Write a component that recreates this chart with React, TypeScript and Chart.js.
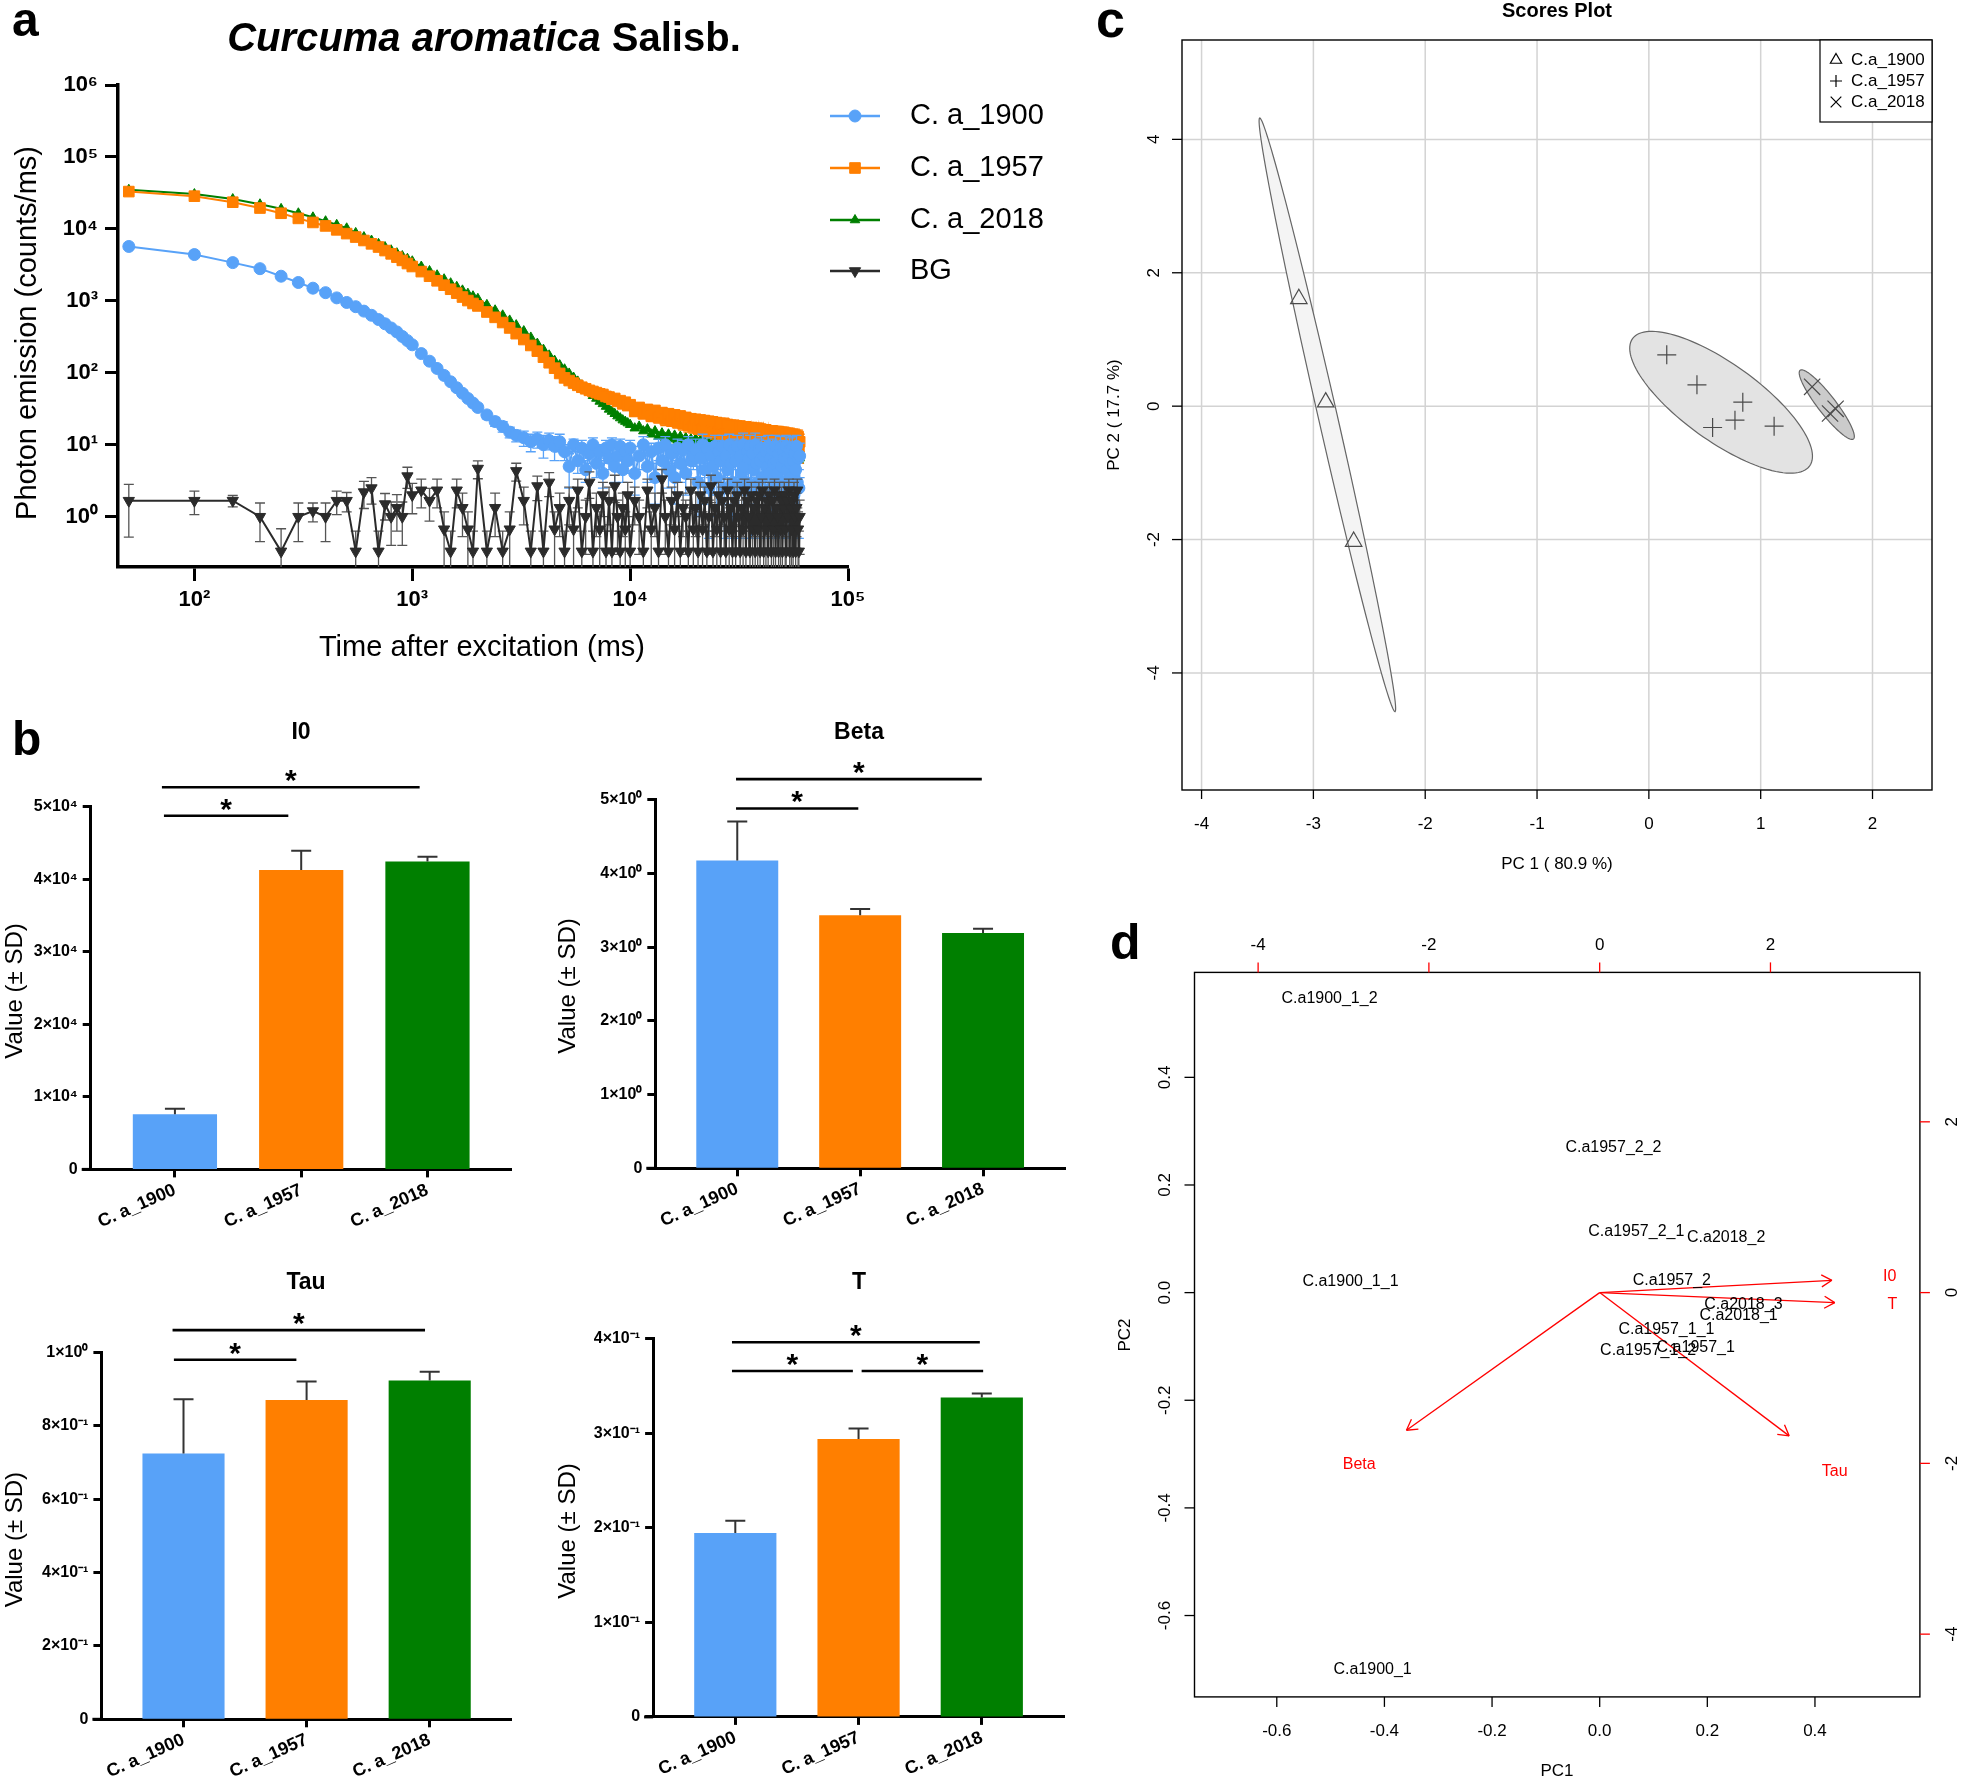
import React, { useEffect, useRef } from "react";
import { Chart, registerables } from "chart.js";

Chart.register(...registerables);

const SANS = '"Liberation Sans", Arial, Helvetica, sans-serif';
Chart.defaults.font.family = SANS;
Chart.defaults.color = "#000";

const BLUE = "#58a2f8";
const ORANGE = "#ff7f00";
const GREEN = "#007f00";
const DARK = "#2b2b2b";
const RED = "#ff0000";

/* ---------------- panel a data ---------------- */
const timeMs = [
  50, 100, 150, 200, 250, 300, 350, 400, 450, 500, 550, 600, 650, 700, 750, 800, 850, 900, 950, 1000,
  1100, 1200, 1300, 1400, 1500, 1600, 1700, 1800, 1900, 2000,
  2200, 2400, 2600, 2800, 3000,
  3250, 3500, 3750, 4000, 4250, 4500, 4750,
  5000, 5250, 5500, 5750, 6000, 6250, 6500, 6750, 7000, 7250, 7500, 7750, 8000, 8250, 8500, 8750, 9000, 9250, 9500, 9750,
  10000, 10500, 11000, 11500, 12000, 12500, 13000, 13500, 14000, 14500,
  15000, 15500, 16000, 16500, 17000, 17500, 18000, 18500, 19000, 19500,
  20000, 20500, 21000, 21500, 22000, 22500, 23000, 23500, 24000, 24500,
  25000, 25500, 26000, 26500, 27000, 27500, 28000, 28500, 29000, 29500,
  30000, 30500, 31000, 31500, 32000, 32500, 33000, 33500, 34000, 34500,
  35000, 35500, 36000, 36500, 37000, 37500, 38000, 38500, 39000, 39500,
  40000, 40500, 41000, 41500, 42000, 42500, 43000, 43500, 44000, 44500,
  45000, 45500, 46000, 46500, 47000, 47500, 48000, 48500, 49000, 49500,
  50000, 50500, 51000, 51500, 52000, 52500, 53000, 53500, 54000, 54500,
  55000, 55500, 56000, 56500, 57000, 57500, 58000, 58500, 59000, 59500,
  60000];
const ca1900 = [
  5700, 4400, 3400, 2800, 2200, 1800, 1500, 1300, 1100, 950, 830, 720, 630, 550, 480, 420, 370, 320, 280, 245,
  185, 145, 115, 92, 75, 62, 52, 44, 38, 33,
  26, 21, 18, 15, 13.5,
  12.5, 11, 12, 10, 11.5, 9.5, 11,
  8, 5, 10, 6, 9, 4.5, 7.5, 10, 5.5, 8, 4, 9, 6.5, 10, 5, 7, 9.5, 4.5, 8, 6,
  9, 4, 7, 10, 5, 8, 3.5, 9, 6, 10,
  4.5, 7.5, 3.5, 9, 5.5, 8.5, 4, 10, 6, 7,
  8.5, 3, 6.5, 10, 4.5, 9, 2.5, 7, 5, 9.5,
  3.5, 8, 6, 9.5, 2.5, 7, 4.5, 10, 5.5, 3,
  8.5, 6, 9.5, 2.5, 7, 4, 10, 5, 3, 8,
  6.5, 9.5, 2.5, 7.5, 4.5, 10, 5.5, 3, 8.5, 6,
  9, 3.5, 7, 2, 8, 5, 9.5, 4, 6.5, 2.5,
  8.5, 5.5, 3, 9.5, 6, 4, 7.5, 2, 9, 5,
  3, 8, 6.5, 2.5, 9.5, 4.5, 7, 2, 8.5, 5.5,
  3.5, 9, 6, 2, 7.5, 4.5, 9.5, 3, 6.5, 2.5,
  7];
const ca1900Err = [
  0, 0, 0, 0, 0, 0, 0, 0, 0, 0, 0, 0, 0, 0, 0, 0, 0, 0, 0, 0,
  0, 0, 0, 0, 0, 6, 5, 4, 4, 3.5,
  3, 3, 3, 2.5, 2.5,
  3, 3, 3, 3.5, 3, 3.5, 3,
  2, 2.5, 2, 2, 2.5, 1.5, 2, 2.5, 2, 2, 1.5, 2.5, 2, 2.5, 2, 2, 2.5, 1.5, 2, 2,
  2.5, 2, 2.5, 3, 2, 2.5, 2, 3, 2.5, 3,
  2, 2.5, 2, 3, 2.5, 3, 2, 3, 2.5, 2.5,
  3.5, 2, 3, 4, 3, 3.5, 2, 3.5, 3, 4,
  2.5, 3.5, 3, 4, 2, 3.5, 3, 4, 3, 2.5,
  3.5, 3, 4, 2, 3.5, 3, 4.5, 3, 2.5, 3.5,
  3, 4, 2, 3.5, 3, 4.5, 3, 2.5, 3.5, 3,
  4, 2.5, 3.5, 1.5, 3.5, 3, 4, 3, 3.5, 2,
  3.5, 3, 2.5, 4, 3.5, 3, 3.5, 1.5, 4, 3,
  2.5, 3.5, 3.5, 2, 4, 3, 3.5, 1.5, 4, 3,
  2.5, 4, 3.5, 1.5, 3.5, 3, 4, 2.5, 3.5, 2,
  3.5];
const ca1957 = [
  33000, 28500, 23500, 19500, 16500, 14000, 12300, 11000, 9700, 8600, 7700, 6900, 6200, 5600, 5000, 4500, 4050, 3650, 3300, 3000,
  2550, 2200, 1900, 1650, 1450, 1280, 1130, 1010, 920, 850,
  700, 590, 500, 420, 350,
  290, 240, 200, 165, 138, 116, 98,
  85, 78, 72, 67, 63, 60, 57, 55, 53, 51, 50, 47, 46, 43, 44, 40, 41, 37, 39, 35,
  36, 29, 33, 27, 31, 25, 30, 24, 28, 22.5,
  27, 21.5, 26, 20.5, 25, 19.5, 24, 18.5, 23, 18,
  22.5, 17, 22, 16.5, 21.5, 16, 21, 15.5, 20.5, 15,
  20, 15, 19.5, 14.5, 19.5, 14, 19, 14, 18.5, 13.5,
  18.5, 13.5, 18, 13, 18, 13, 17.5, 12.5, 17.5, 12.5,
  17, 12, 17, 12, 16.5, 12, 16.5, 11.5, 16.5, 11.5,
  16, 11.5, 16, 11, 16, 11, 15.5, 11, 15.5, 10.5,
  15.5, 10.5, 15, 10.5, 15, 10, 15, 10, 14.5, 10,
  14.5, 10, 14.5, 9.5, 14, 9.5, 14, 9.5, 14, 9,
  13.5, 9, 13.5, 9, 13.5, 8.5, 13, 8.5, 13, 8,
  11];
const ca1957Err = [
  0, 0, 0, 0, 0, 0, 0, 0, 0, 0, 0, 0, 0, 0, 0, 0, 0, 0, 0, 0,
  0, 0, 0, 0, 0, 0, 0, 0, 0, 0,
  0, 0, 0, 0, 0,
  0, 0, 0, 0, 0, 0, 0,
  5, 4, 4, 4, 4, 3.5, 3.5, 3.5, 3.5, 3.5, 3, 3, 3, 3, 3, 3, 3, 3, 3, 3,
  5, 4, 5, 4, 5, 4, 4.5, 4, 4.5, 4,
  4.5, 3.5, 4.5, 3.5, 4.5, 3.5, 4, 3.5, 4, 3.5,
  4, 3, 4, 3, 4, 3, 4, 3, 4, 3,
  4, 3, 4, 3, 4, 3, 3.5, 3, 3.5, 3,
  3.5, 3, 3.5, 3, 3.5, 3, 3.5, 2.5, 3.5, 2.5,
  3.5, 2.5, 3.5, 2.5, 3.5, 2.5, 3.5, 2.5, 3.5, 2.5,
  3.5, 2.5, 3, 2.5, 3, 2.5, 3, 2.5, 3, 2.5,
  3, 2.5, 3, 2.5, 3, 2.5, 3, 2.5, 3, 2.5,
  3, 2.5, 3, 2.5, 3, 2.5, 3, 2.5, 3, 2.5,
  3, 2.5, 3, 2.5, 3, 2.5, 3, 2.5, 3, 2.5,
  3];
const ca2018 = [
  35000, 30500, 26000, 22000, 19000, 16500, 14500, 12800, 11400, 10200, 8800, 7700, 6900, 6200, 5600, 5050, 4600, 4200, 3850, 3550,
  3000, 2600, 2270, 2000, 1760, 1570, 1400, 1260, 1160, 1070,
  880, 740, 630, 535, 460,
  380, 310, 255, 210, 175, 148, 128,
  112, 98, 86, 76, 67, 60, 54, 48, 44, 40, 37, 34, 31, 29, 27, 25, 23.5, 22, 21, 20,
  19, 17, 18, 15.5, 16.5, 14, 15.5, 13, 14.5, 12.5,
  14, 12, 13.5, 11.5, 13, 11, 12.5, 10.5, 12, 10.5,
  12, 10, 11.5, 9.5, 11.5, 9.5, 11, 9, 11, 9,
  10.5, 8.5, 10.5, 8.5, 10.5, 8.5, 10, 8, 10, 8,
  10, 8, 10, 8, 9.5, 7.5, 9.5, 7.5, 9.5, 7.5,
  9.5, 7.5, 9, 7.5, 9, 7.5, 9, 7, 9, 7,
  9, 7, 9, 7, 8.5, 7, 8.5, 7, 8.5, 7,
  8.5, 7, 8.5, 6.5, 8.5, 6.5, 8, 6.5, 8, 6.5,
  8, 6.5, 8, 6.5, 8, 6.5, 7.5, 6.5, 7.5, 6,
  7.5, 6, 7.5, 6, 7.5, 6, 7, 6, 7, 6,
  6.5];
const bgCounts = [
  1.67, 1.67, 1.67, 1.0, 0.33, 1.0, 1.2, 1.0, 1.67, 1.67, 0.33, 2.2, 2.5, 0.33, 1.5, 1.0, 1.33, 1.0, 3.67, 2.0,
  2.33, 1.67, 2.33, 0.67, 0.33, 2.33, 1.33, 0.67, 0.33, 4.67,
  0.33, 1.33, 0.33, 0.67, 4.33,
  1.67, 0.33, 2.67, 0.33, 3.0, 0.67, 1.33,
  0.33, 1.67, 0.67, 2.33, 0.33, 1.0, 3.0, 0.33, 1.33, 0.67, 2.0, 0.33, 1.67, 0.33, 2.67, 1.0, 0.33, 1.33, 0.67, 2.0,
  0.33, 1.67, 1.0, 0.33, 2.33, 0.67, 1.33, 0.33, 3.33, 1.0,
  0.33, 1.67, 0.67, 2.0, 0.33, 1.33, 1.0, 0.33, 2.33, 0.67,
  1.33, 0.33, 2.0, 0.67, 1.67, 0.33, 1.0, 2.67, 0.33, 1.33,
  0.67, 2.0, 0.33, 1.67, 1.0, 0.33, 2.33, 0.67, 1.33, 0.33,
  1.67, 0.33, 2.0, 1.0, 0.33, 1.33, 0.67, 2.33, 0.33, 1.67,
  1.0, 0.33, 2.0, 0.67, 1.33, 0.33, 1.67, 0.67, 2.0, 0.33,
  1.0, 2.33, 0.33, 1.33, 0.67, 1.67, 0.33, 2.0, 1.0, 0.33,
  1.67, 0.67, 2.33, 0.33, 1.33, 1.0, 0.33, 2.0, 0.67, 1.67,
  0.33, 1.33, 2.0, 0.67, 0.33, 1.67, 1.0, 2.33, 0.33, 1.33,
  0.67, 1.67, 0.33, 2.0, 1.0, 0.33, 1.33, 2.33, 0.67, 0.33,
  1.0];
const bgErr = [
  1.15, 0.6, 0.3, 0.55, 0.35, 0.55, 0.35, 0.55, 0.6, 0.5, 0.3, 0.9, 1.0, 0.3, 0.6, 0.6, 0.7, 0.6, 1.2, 0.9,
  1.0, 0.8, 1.0, 0.5, 0.3, 1.0, 0.8, 0.5, 0.3, 1.3,
  0.3, 0.8, 0.3, 0.5, 1.2,
  0.9, 0.3, 1.0, 0.3, 1.1, 0.5, 0.8,
  0.3, 0.9, 0.5, 1.0, 0.3, 0.7, 1.2, 0.3, 0.8, 0.5, 1.0, 0.3, 0.9, 0.3, 1.1, 0.7, 0.3, 0.8, 0.5, 1.0,
  0.3, 0.9, 0.7, 0.3, 1.0, 0.5, 0.8, 0.3, 1.2, 0.7,
  0.3, 0.9, 0.5, 1.0, 0.3, 0.8, 0.7, 0.3, 1.0, 0.5,
  0.8, 0.3, 1.0, 0.5, 0.9, 0.3, 0.7, 1.1, 0.3, 0.8,
  0.5, 1.0, 0.3, 0.9, 0.7, 0.3, 1.0, 0.5, 0.8, 0.3,
  0.9, 0.3, 1.0, 0.7, 0.3, 0.8, 0.5, 1.0, 0.3, 0.9,
  0.7, 0.3, 1.0, 0.5, 0.8, 0.3, 0.9, 0.5, 1.0, 0.3,
  0.7, 1.0, 0.3, 0.8, 0.5, 0.9, 0.3, 1.0, 0.7, 0.3,
  0.9, 0.5, 1.0, 0.3, 0.8, 0.7, 0.3, 1.0, 0.5, 0.9,
  0.3, 0.8, 1.0, 0.5, 0.3, 0.9, 0.7, 1.0, 0.3, 0.8,
  0.5, 0.9, 0.3, 1.0, 0.7, 0.3, 0.8, 1.0, 0.5, 0.3,
  0.7];
const aSeriesNames = ["C. a_1900", "C. a_1957", "C. a_2018", "BG"];
const aXTicks = [100, 1000, 10000, 100000];
const aXTickLabels = ["10²", "10³", "10⁴", "10⁵"];
const aYTicks = [1, 10, 100, 1000, 10000, 100000, 1000000];
const aYTickLabels = ["10⁰", "10¹", "10²", "10³", "10⁴", "10⁵", "10⁶"];
const aTitleItalic = "Curcuma aromatica";
const aTitleRest = " Salisb.";
const aXTitle = "Time after excitation (ms)";
const aYTitle = "Photon emission (counts/ms)";

/* ---------------- panel b data ---------------- */
const groups = ["C. a_1900", "C. a_1957", "C. a_2018"];
const i0Mean = [7600, 41270, 42430];
const i0Sd = [770, 2670, 660];
const betaMean = [4.176, 3.434, 3.195];
const betaSd = [0.53, 0.085, 0.056];
const tauMean = [0.7248, 0.8705, 0.924];
const tauSd = [0.148, 0.051, 0.024];
const tMean = [0.1946, 0.294, 0.338];
const tSd = [0.013, 0.011, 0.004];
const i0Ticks = [0, 10000, 20000, 30000, 40000, 50000];
const i0TickLabels = ["0", "1×10⁴", "2×10⁴", "3×10⁴", "4×10⁴", "5×10⁴"];
const betaTicks = [0, 1, 2, 3, 4, 5];
const betaTickLabels = ["0", "1×10⁰", "2×10⁰", "3×10⁰", "4×10⁰", "5×10⁰"];
const tauTicks = [0, 0.2, 0.4, 0.6, 0.8, 1];
const tauTickLabels = ["0", "2×10⁻¹", "4×10⁻¹", "6×10⁻¹", "8×10⁻¹", "1×10⁰"];
const tTicks = [0, 0.1, 0.2, 0.3, 0.4];
const tTickLabels = ["0", "1×10⁻¹", "2×10⁻¹", "3×10⁻¹", "4×10⁻¹"];
// significance brackets: [from group index, to group index, height]
const i0Sig = [[-0.087, 0.898, 48760], [-0.103, 1.938, 52675]];
const betaSig = [[-0.01, 0.985, 4.884], [-0.01, 1.99, 5.282]];
const tauSig = [[-0.078, 0.917, 0.9804], [-0.089, 1.962, 1.0612]];
const tSig = [[-0.027, 1.984, 0.3963], [-0.027, 0.954, 0.366], [1.025, 2.011, 0.366]];
const bYTitle = "Value (± SD)";

/* ---------------- panel c data ---------------- */
const c1900X = [-3.13, -2.89, -2.64];
const c1900Y = [1.61, 0.06, -2.03];
const c1957X = [0.16, 0.43, 0.57, 0.77, 0.84, 1.12];
const c1957Y = [0.77, 0.32, -0.32, -0.21, 0.06, -0.30];
const c2018X = [1.46, 1.62, 1.67];
const c2018Y = [0.29, -0.11, -0.04];
// confidence ellipses: centre, semi-major vector, semi-minor vector (data units)
const ellCx = [-2.875, 0.646, 1.591];
const ellCy = [-0.13, 0.058, 0.023];
const ellAx = [0.605, 0.792, 0.238];
const ellAy = [-4.45, -0.954, -0.515];
const ellBx = [0.0828, 0.201, 0.064];
const ellBy = [0.0317, 0.47, 0.082];
const cXTicks = [-4, -3, -2, -1, 0, 1, 2];
const cYTicks = [-4, -2, 0, 2, 4];
const cLegend = ["C.a_1900", "C.a_1957", "C.a_2018"];

/* ---------------- panel d data ---------------- */
const obsNames = ["C.a1900_1_2", "C.a1957_2_2", "C.a1957_2_1", "C.a2018_2", "C.a1900_1_1", "C.a1957_2",
  "C.a2018_3", "C.a2018_1", "C.a1957_1_1", "C.a1957_1", "C.a1957_1_2", "C.a1900_1"];
const obsPC1 = [-0.502, 0.0256, 0.068, 0.235, -0.463, 0.134, 0.267, 0.258, 0.124, 0.1785, 0.09, -0.422];
const obsPC2 = [0.547, 0.269, 0.1125, 0.102, 0.0197, 0.0228, -0.022, -0.0427, -0.069, -0.102, -0.107, -0.7];
const varNames = ["I0", "T", "Beta", "Tau"];
const varX = [2.72, 2.753, -2.263, 2.219];
const varY = [0.144, -0.118, -1.612, -1.678];
const varLabX = [3.397, 3.427, -2.816, 2.753];
const varLabY = [0.182, -0.145, -2.02, -2.093];
const dXTicks = [-0.6, -0.4, -0.2, 0, 0.2, 0.4];
const dXTickLabels = ["-0.6", "-0.4", "-0.2", "0.0", "0.2", "0.4"];
const dX2Ticks = [-4, -2, 0, 2];
const dX2TickLabels = ["-4", "-2", "0", "2"];

/* ---------------- helpers ---------------- */
function tx(ctx: any, s: string, x: number, y: number, font: string, align = "center", baseline = "middle", color = "#000", rot = 0) {
  ctx.save();
  ctx.font = font;
  ctx.fillStyle = color;
  ctx.textAlign = align;
  ctx.textBaseline = baseline;
  ctx.translate(x, y);
  if (rot) ctx.rotate(rot);
  ctx.fillText(s, 0, 0);
  ctx.restore();
}

function marker(ctx: any, style: string, x: number, y: number, r: number, fill: string | null, stroke: string | null, lw: number, rot = 0) {
  ctx.save();
  ctx.translate(x, y);
  ctx.rotate((rot * Math.PI) / 180);
  ctx.beginPath();
  if (style === "circle") ctx.arc(0, 0, r, 0, Math.PI * 2);
  else if (style === "rect") {
    const s = r * Math.SQRT1_2;
    ctx.rect(-s, -s, 2 * s, 2 * s);
  } else if (style === "triangle") {
    for (let k = 0; k < 3; k++) {
      const a = (k * 2 * Math.PI) / 3;
      if (k === 0) ctx.moveTo(Math.sin(a) * r, -Math.cos(a) * r);
      else ctx.lineTo(Math.sin(a) * r, -Math.cos(a) * r);
    }
    ctx.closePath();
  } else if (style === "cross") {
    ctx.moveTo(-r, 0); ctx.lineTo(r, 0); ctx.moveTo(0, -r); ctx.lineTo(0, r);
  } else if (style === "crossRot") {
    const d = r * Math.SQRT1_2;
    ctx.moveTo(-d, -d); ctx.lineTo(d, d); ctx.moveTo(-d, d); ctx.lineTo(d, -d);
  }
  if (fill) { ctx.fillStyle = fill; ctx.fill(); }
  if (stroke) { ctx.strokeStyle = stroke; ctx.lineWidth = lw; ctx.stroke(); }
  ctx.restore();
}

function ChartBox({ box, build }: any) {
  const ref = useRef<HTMLCanvasElement | null>(null);
  useEffect(() => {
    const chart = build(ref.current);
    return () => chart.destroy();
  }, []);
  return (
    <canvas ref={ref} width={box.w} height={box.h}
      style={{ position: "absolute", left: box.x, top: box.y, width: box.w + "px", height: box.h + "px" }} />
  );
}

/* ---------------- panel a ---------------- */
const A_BOX = { x: 0, y: 0, w: 1090, h: 700 };
const A_AREA = { L: 118, T: 85, R: 848, B: 567 };

const errorBarPlugin = {
  id: "errbars",
  beforeDatasetDraw(chart: any, args: any) {
    const ds = chart.data.datasets[args.index];
    if (!ds.errors) return;
    const ys = chart.scales.y, ctx = chart.ctx, a = chart.chartArea;
    ctx.save();
    ctx.beginPath();
    ctx.rect(a.left, a.top, a.right - a.left, a.bottom - a.top);
    ctx.clip();
    ctx.strokeStyle = ds.errColor;
    ctx.lineWidth = 1.3;
    args.meta.data.forEach((pt: any, j: number) => {
      const e = ds.errors[j];
      if (!e) return;
      const v = ds.data[j].y;
      const yTop = ys.getPixelForValue(v + e);
      const lo = v - e;
      const hasLo = lo > ys.min;
      const yBot = hasLo ? ys.getPixelForValue(lo) : a.bottom;
      ctx.beginPath();
      ctx.moveTo(pt.x, yTop); ctx.lineTo(pt.x, yBot);
      ctx.moveTo(pt.x - 5, yTop); ctx.lineTo(pt.x + 5, yTop);
      if (hasLo) { ctx.moveTo(pt.x - 5, yBot); ctx.lineTo(pt.x + 5, yBot); }
      ctx.stroke();
    });
    ctx.restore();
  },
};

function buildA(canvas: HTMLCanvasElement) {
  const pts = (vals: number[]) => timeMs.map((t, i) => ({ x: t, y: vals[i] }));
  const styles: any = {
    "C. a_1900": { color: BLUE, style: "circle", r: 6, rot: 0 },
    "C. a_1957": { color: ORANGE, style: "rect", r: 7.5, rot: 0 },
    "C. a_2018": { color: GREEN, style: "triangle", r: 5.5, rot: 0 },
    BG: { color: DARK, style: "triangle", r: 6.5, rot: 180 },
  };
  const mk = (name: string, vals: number[], errs: any, errColor: string) => {
    const s = styles[name];
    return {
      label: name, data: pts(vals), errors: errs, errColor,
      borderColor: s.color, backgroundColor: s.color, pointBackgroundColor: s.color, pointBorderColor: s.color,
      pointStyle: s.style, pointRadius: s.r, pointRotation: s.rot, pointBorderWidth: 1, borderWidth: 2, tension: 0,
    };
  };
  const decor = {
    id: "aDecor",
    afterDraw(chart: any) {
      const ctx = chart.ctx;
      tx(ctx, "a", 12, 36, `bold 48px ${SANS}`, "left", "alphabetic");
      const f1 = `italic bold 40px ${SANS}`, f2 = `bold 40px ${SANS}`;
      ctx.save();
      ctx.font = f1; const w1 = ctx.measureText(aTitleItalic).width;
      ctx.font = f2; const w2 = ctx.measureText(aTitleRest).width;
      ctx.restore();
      const x0 = 484 - (w1 + w2) / 2;
      tx(ctx, aTitleItalic, x0, 51, f1, "left", "alphabetic");
      tx(ctx, aTitleRest, x0 + w1, 51, f2, "left", "alphabetic");
      tx(ctx, aYTitle, 28, 333, `29px ${SANS}`, "center", "middle", "#000", -Math.PI / 2);
      tx(ctx, aXTitle, 482, 648, `29px ${SANS}`);
      const rows = [116, 168, 220, 271];
      aSeriesNames.forEach((n, i) => {
        const s = styles[n];
        const y = rows[i];
        ctx.save();
        ctx.strokeStyle = s.color; ctx.lineWidth = 2.5;
        ctx.beginPath(); ctx.moveTo(830, y); ctx.lineTo(880, y); ctx.stroke();
        ctx.restore();
        marker(ctx, s.style, 855, y, s.r, s.color, s.color, 1, s.rot);
        tx(ctx, n, 910, y, `29px ${SANS}`, "left", "middle");
      });
    },
  };
  return new Chart(canvas, {
    type: "line",
    data: {
      datasets: [
        mk("BG", bgCounts, bgErr, "#555555"),
        mk("C. a_1900", ca1900, ca1900Err, BLUE),
        mk("C. a_1957", ca1957, ca1957Err, ORANGE),
        mk("C. a_2018", ca2018, null, GREEN),
      ] as any,
    },
    options: {
      responsive: false, animation: false, events: [],
      layout: { padding: { left: 0, top: A_AREA.T - A_BOX.y, right: A_BOX.x + A_BOX.w - A_AREA.R, bottom: 0 } },
      plugins: { legend: { display: false }, tooltip: { enabled: false } },
      scales: {
        x: {
          type: "logarithmic", min: 44.6, max: 100000,
          afterBuildTicks: (s: any) => { s.ticks = aXTicks.map((v) => ({ value: v })); },
          afterFit: (s: any) => { s.height = A_BOX.y + A_BOX.h - A_AREA.B; },
          ticks: { callback: (_v: any, i: number) => aXTickLabels[i], font: { size: 22, weight: "bold" }, color: "#000", padding: 6, maxRotation: 0, autoSkip: false },
          grid: { display: true, drawOnChartArea: false, drawTicks: true, tickLength: 14, tickWidth: 3, color: "#000" },
          border: { display: true, width: 3.5, color: "#000" },
        },
        y: {
          type: "logarithmic", min: 0.2, max: 1000000,
          afterBuildTicks: (s: any) => { s.ticks = aYTicks.map((v) => ({ value: v })); },
          afterFit: (s: any) => { s.width = A_AREA.L - A_BOX.x; },
          ticks: { callback: (_v: any, i: number) => aYTickLabels[i], font: { size: 22, weight: "bold" }, color: "#000", padding: 7, autoSkip: false },
          grid: { display: true, drawOnChartArea: false, drawTicks: true, tickLength: 13, tickWidth: 3, color: "#000" },
          border: { display: true, width: 3.5, color: "#000" },
        },
      },
    } as any,
    plugins: [errorBarPlugin, decor] as any,
  });
}

/* ---------------- panel b ---------------- */
const B_CFGS: any[] = [
  { box: { x: 0, y: 700, w: 545, h: 540 }, area: { L: 90.7, T: 806.7, R: 511.7, B: 1169.4 }, means: i0Mean, sds: i0Sd,
    ticks: i0Ticks, tickLabels: i0TickLabels, sig: i0Sig, title: "I0", titleAt: [301, 733], yTitleAt: [15.2, 991], letter: "b" },
  { box: { x: 545, y: 700, w: 545, h: 540 }, area: { L: 655.3, T: 799.9, R: 1065, B: 1168.3 }, means: betaMean, sds: betaSd,
    ticks: betaTicks, tickLabels: betaTickLabels, sig: betaSig, title: "Beta", titleAt: [859, 733], yTitleAt: [568, 986] },
  { box: { x: 0, y: 1240, w: 545, h: 540 }, area: { L: 101.4, T: 1352.6, R: 511.8, B: 1719.3 }, means: tauMean, sds: tauSd,
    ticks: tauTicks, tickLabels: tauTickLabels, sig: tauSig, title: "Tau", titleAt: [306, 1283], yTitleAt: [15.2, 1539.6] },
  { box: { x: 545, y: 1240, w: 545, h: 540 }, area: { L: 653.1, T: 1338.8, R: 1064, B: 1716.9 }, means: tMean, sds: tSd,
    ticks: tTicks, tickLabels: tTickLabels, sig: tSig, title: "T", titleAt: [859, 1283], yTitleAt: [568, 1531] },
];

function buildBar(canvas: HTMLCanvasElement, cfg: any) {
  const { box, area } = cfg;
  const decor = {
    id: "barDecor",
    afterDatasetsDraw(chart: any) {
      const ctx = chart.ctx, xs = chart.scales.x, ys = chart.scales.y;
      ctx.save();
      ctx.strokeStyle = "#333"; ctx.lineWidth = 2;
      cfg.means.forEach((m: number, i: number) => {
        const x = xs.getPixelForValue(i);
        const y0 = ys.getPixelForValue(m), y1 = ys.getPixelForValue(m + cfg.sds[i]);
        ctx.beginPath();
        ctx.moveTo(x, y0); ctx.lineTo(x, y1);
        ctx.moveTo(x - 10, y1); ctx.lineTo(x + 10, y1);
        ctx.stroke();
      });
      ctx.strokeStyle = "#000"; ctx.lineWidth = 2.6;
      cfg.sig.forEach((s: number[]) => {
        const x1 = xs.getPixelForValue(s[0]), x2 = xs.getPixelForValue(s[1]), y = ys.getPixelForValue(s[2]);
        ctx.beginPath(); ctx.moveTo(x1, y); ctx.lineTo(x2, y); ctx.stroke();
        tx(ctx, "*", (x1 + x2) / 2, y + 3, `bold 30px ${SANS}`, "center", "alphabetic");
      });
      ctx.restore();
    },
    afterDraw(chart: any) {
      const ctx = chart.ctx, a = chart.chartArea;
      ctx.save();
      ctx.strokeStyle = "#000"; ctx.lineWidth = 3;
      ctx.beginPath(); ctx.moveTo(a.left - 9, a.bottom); ctx.lineTo(a.left, a.bottom); ctx.stroke();
      ctx.restore();
      tx(ctx, cfg.title, cfg.titleAt[0] - box.x, cfg.titleAt[1] - box.y, `bold 23px ${SANS}`);
      tx(ctx, bYTitle, cfg.yTitleAt[0] - box.x, cfg.yTitleAt[1] - box.y, `24px ${SANS}`, "center", "middle", "#000", -Math.PI / 2);
      if (cfg.letter) tx(ctx, cfg.letter, 12, 55, `bold 48px ${SANS}`, "left", "alphabetic");
    },
  };
  return new Chart(canvas, {
    type: "bar",
    data: {
      datasets: [{
        data: cfg.means.map((m: number, i: number) => ({ x: i, y: m })),
        backgroundColor: [BLUE, ORANGE, GREEN], borderWidth: 0, barPercentage: 0.667, categoryPercentage: 1,
      }],
    },
    options: {
      responsive: false, animation: false, events: [],
      layout: { padding: { left: 0, top: area.T - box.y, right: box.x + box.w - area.R, bottom: 0 } },
      plugins: { legend: { display: false }, tooltip: { enabled: false } },
      scales: {
        x: {
          type: "linear", min: -0.667, max: 2.667, offset: false,
          afterBuildTicks: (s: any) => { s.ticks = groups.map((_g, i) => ({ value: i })); },
          afterFit: (s: any) => { s.height = box.y + box.h - area.B; },
          ticks: { callback: (_v: any, i: number) => groups[i], minRotation: 24, maxRotation: 24, autoSkip: false, font: { size: 18, weight: "bold" }, color: "#000", padding: 2 },
          grid: { display: true, drawOnChartArea: false, drawTicks: true, tickLength: 8, tickWidth: 3, color: "#000", offset: false },
          border: { display: true, width: 3, color: "#000" },
        },
        y: {
          type: "linear", min: 0, max: cfg.ticks[cfg.ticks.length - 1],
          afterBuildTicks: (s: any) => { s.ticks = cfg.ticks.map((v: number) => ({ value: v })); },
          afterFit: (s: any) => { s.width = area.L - box.x; },
          ticks: { callback: (_v: any, i: number) => cfg.tickLabels[i], font: { size: 16, weight: "bold" }, color: "#000", padding: 5, autoSkip: false },
          grid: { display: true, drawOnChartArea: false, drawTicks: true, tickLength: 8, tickWidth: 3, color: "#000" },
          border: { display: true, width: 3, color: "#000" },
        },
      },
    } as any,
    plugins: [decor] as any,
  });
}

/* ---------------- R-style axis helper ---------------- */
function rAxis(ctx: any, side: string, scale: any, a: any, values: number[], labels: string[], tickLen: number, off: number, tickColor: string) {
  ctx.save();
  ctx.strokeStyle = tickColor;
  ctx.lineWidth = 1.3;
  const f = `17px ${SANS}`;
  values.forEach((v, i) => {
    const p = scale.getPixelForValue(v);
    ctx.beginPath();
    if (side === "bottom") { ctx.moveTo(p, a.bottom); ctx.lineTo(p, a.bottom + tickLen); }
    if (side === "top") { ctx.moveTo(p, a.top); ctx.lineTo(p, a.top - tickLen); }
    if (side === "left") { ctx.moveTo(a.left, p); ctx.lineTo(a.left - tickLen, p); }
    if (side === "right") { ctx.moveTo(a.right, p); ctx.lineTo(a.right + tickLen, p); }
    ctx.stroke();
    if (side === "bottom") tx(ctx, labels[i], p, a.bottom + off, f);
    if (side === "top") tx(ctx, labels[i], p, a.top - off, f);
    if (side === "left") tx(ctx, labels[i], a.left - off, p, f, "center", "middle", "#000", -Math.PI / 2);
    if (side === "right") tx(ctx, labels[i], a.right + off, p, f, "center", "middle", "#000", -Math.PI / 2);
  });
  ctx.restore();
}

/* ---------------- panel c ---------------- */
const C_BOX = { x: 1090, y: 0, w: 871, h: 900 };
const C_AREA = { L: 1182, T: 40, R: 1932, B: 790 };

function buildC(canvas: HTMLCanvasElement) {
  const box = C_BOX, area = C_AREA;
  const pts = (xs: number[], ys: number[]) => xs.map((x, i) => ({ x, y: ys[i] }));
  const ptStyle = (style: string, r: number) => ({
    pointStyle: style, pointRadius: r, pointBorderColor: "#4a4a4a", pointBackgroundColor: "rgba(0,0,0,0)", pointBorderWidth: 1.2,
  });
  const ellFill = ["#f4f4f4", "#e3e3e3", "#cbcbcb"];
  const decor = {
    id: "cDecor",
    beforeDatasetsDraw(chart: any) {
      const ctx = chart.ctx, a = chart.chartArea, xs = chart.scales.x, ys = chart.scales.y;
      ctx.save();
      ctx.strokeStyle = "#d3d3d3"; ctx.lineWidth = 1.5;
      cXTicks.forEach((v) => {
        const x = xs.getPixelForValue(v);
        ctx.beginPath(); ctx.moveTo(x, a.top); ctx.lineTo(x, a.bottom); ctx.stroke();
      });
      cYTicks.forEach((v) => {
        const y = ys.getPixelForValue(v);
        ctx.beginPath(); ctx.moveTo(a.left, y); ctx.lineTo(a.right, y); ctx.stroke();
      });
      ellCx.forEach((cx, k) => {
        ctx.beginPath();
        for (let s = 0; s <= 120; s++) {
          const t = (s / 120) * Math.PI * 2;
          const px = xs.getPixelForValue(cx + ellAx[k] * Math.cos(t) + ellBx[k] * Math.sin(t));
          const py = ys.getPixelForValue(ellCy[k] + ellAy[k] * Math.cos(t) + ellBy[k] * Math.sin(t));
          if (s === 0) ctx.moveTo(px, py); else ctx.lineTo(px, py);
        }
        ctx.closePath();
        ctx.fillStyle = ellFill[k]; ctx.fill();
        ctx.strokeStyle = "#666"; ctx.lineWidth = 1.2; ctx.stroke();
      });
      ctx.restore();
    },
    afterDatasetsDraw(chart: any) {
      const ctx = chart.ctx, a = chart.chartArea, xs = chart.scales.x, ys = chart.scales.y;
      ctx.save();
      ctx.strokeStyle = "#000"; ctx.lineWidth = 1.4;
      ctx.strokeRect(a.left, a.top, a.right - a.left, a.bottom - a.top);
      ctx.restore();
      rAxis(ctx, "bottom", xs, a, cXTicks, cXTicks.map(String), 9, 34, "#000");
      rAxis(ctx, "left", ys, a, cYTicks, cYTicks.map(String), 10, 28, "#000");
      const lx = a.right - 112, ly = a.top;
      ctx.save();
      ctx.fillStyle = "#fff"; ctx.fillRect(lx, ly, 112, 82);
      ctx.strokeStyle = "#000"; ctx.lineWidth = 1.2; ctx.strokeRect(lx, ly, 112, 82);
      ctx.restore();
      const lstyles = [["triangle", 6.5], ["cross", 6], ["crossRot", 7.5]];
      cLegend.forEach((n, i) => {
        const y = ly + 20 + i * 21;
        marker(ctx, lstyles[i][0] as string, lx + 16, y, lstyles[i][1] as number, null, "#000", 1.2);
        tx(ctx, n, lx + 31, y, `17px ${SANS}`, "left", "middle");
      });
      tx(ctx, "Scores Plot", 1557 - box.x, 11, `bold 20px ${SANS}`);
      tx(ctx, "PC 1 ( 80.9 %)", 1557 - box.x, 864, `17px ${SANS}`);
      tx(ctx, "PC 2 ( 17.7 %)", 1114 - box.x, 415, `17px ${SANS}`, "center", "middle", "#000", -Math.PI / 2);
      tx(ctx, "c", 1096 - box.x, 37, `bold 52px ${SANS}`, "left", "alphabetic");
    },
  };
  return new Chart(canvas, {
    type: "scatter",
    data: {
      datasets: [
        { data: pts(c1900X, c1900Y), ...ptStyle("triangle", 9.5) },
        { data: pts(c1957X, c1957Y), ...ptStyle("cross", 9.5) },
        { data: pts(c2018X, c2018Y), ...ptStyle("crossRot", 11.5) },
      ] as any,
    },
    options: {
      responsive: false, animation: false, events: [],
      layout: { padding: { left: area.L - box.x, top: area.T - box.y, right: box.x + box.w - area.R, bottom: box.y + box.h - area.B } },
      plugins: { legend: { display: false }, tooltip: { enabled: false } },
      scales: {
        x: { type: "linear", display: false, min: -4.175, max: 2.532 },
        y: { type: "linear", display: false, min: -5.755, max: 5.49 },
      },
    } as any,
    plugins: [decor] as any,
  });
}

/* ---------------- panel d ---------------- */
const D_BOX = { x: 1090, y: 900, w: 871, h: 880 };
const D_AREA = { L: 1194.5, T: 972.4, R: 1919.9, B: 1696.9 };

function buildD(canvas: HTMLCanvasElement) {
  const box = D_BOX, area = D_AREA;
  const decor = {
    id: "dDecor",
    afterDatasetsDraw(chart: any) {
      const ctx = chart.ctx, a = chart.chartArea;
      const xs = chart.scales.x, ys = chart.scales.y, x2 = chart.scales.x2, y2 = chart.scales.y2;
      ctx.save();
      ctx.strokeStyle = RED; ctx.lineWidth = 1.3;
      varNames.forEach((_n, k) => {
        const meta = chart.getDatasetMeta(k + 1);
        const p0 = meta.data[0], p1 = meta.data[1];
        const ang = Math.atan2(p1.y - p0.y, p1.x - p0.x);
        ctx.beginPath();
        [-1, 1].forEach((sg) => {
          ctx.moveTo(p1.x, p1.y);
          ctx.lineTo(p1.x - 12 * Math.cos(ang + (sg * Math.PI) / 6), p1.y - 12 * Math.sin(ang + (sg * Math.PI) / 6));
        });
        ctx.stroke();
      });
      ctx.restore();
      const m0 = chart.getDatasetMeta(0);
      obsNames.forEach((n, j) => tx(ctx, n, m0.data[j].x, m0.data[j].y, `16px ${SANS}`));
      varNames.forEach((n, k) =>
        tx(ctx, n, x2.getPixelForValue(varLabX[k]), y2.getPixelForValue(varLabY[k]), `16px ${SANS}`, "center", "middle", RED));
      ctx.save();
      ctx.strokeStyle = "#000"; ctx.lineWidth = 1.4;
      ctx.strokeRect(a.left, a.top, a.right - a.left, a.bottom - a.top);
      ctx.restore();
      rAxis(ctx, "bottom", xs, a, dXTicks, dXTickLabels, 10, 34, "#000");
      rAxis(ctx, "left", ys, a, dXTicks, dXTickLabels, 10, 29, "#000");
      rAxis(ctx, "top", x2, a, dX2Ticks, dX2TickLabels, 10, 27.5, RED);
      rAxis(ctx, "right", y2, a, dX2Ticks, dX2TickLabels, 10, 32.5, RED);
      tx(ctx, "PC1", 1557 - box.x, 1771 - box.y, `17px ${SANS}`);
      tx(ctx, "PC2", 1125 - box.x, 1335 - box.y, `17px ${SANS}`, "center", "middle", "#000", -Math.PI / 2);
      tx(ctx, "d", 1110 - box.x, 959 - box.y, `bold 50px ${SANS}`, "left", "alphabetic");
    },
  };
  const arrowSets = varNames.map((_n, k) => ({
    data: [{ x: 0, y: 0 }, { x: varX[k], y: varY[k] }],
    showLine: true, borderColor: RED, borderWidth: 1.3, pointRadius: 0, xAxisID: "x2", yAxisID: "y2",
  }));
  return new Chart(canvas, {
    type: "scatter",
    data: {
      datasets: [
        { data: obsPC1.map((x, i) => ({ x, y: obsPC2[i] })), pointRadius: 0, xAxisID: "x", yAxisID: "y" },
        ...arrowSets,
      ] as any,
    },
    options: {
      responsive: false, animation: false, events: [],
      layout: { padding: { left: area.L - box.x, top: area.T - box.y, right: box.x + box.w - area.R, bottom: box.y + box.h - area.B } },
      plugins: { legend: { display: false }, tooltip: { enabled: false } },
      scales: {
        x: { type: "linear", display: false, min: -0.7529, max: 0.595 },
        y: { type: "linear", display: false, min: -0.7512, max: 0.595 },
        x2: { type: "linear", display: false, position: "top", min: -4.745, max: 3.75 },
        y2: { type: "linear", display: false, position: "right", min: -4.735, max: 3.75 },
      },
    } as any,
    plugins: [decor] as any,
  });
}

export default function App() {
  return (
    <div style={{ position: "absolute", left: 0, top: 0, width: 1961, height: 1780, background: "#fff", overflow: "hidden" }}>
      <ChartBox box={A_BOX} build={buildA} />
      {B_CFGS.map((cfg, i) => (
        <ChartBox key={i} box={cfg.box} build={(c: HTMLCanvasElement) => buildBar(c, cfg)} />
      ))}
      <ChartBox box={C_BOX} build={buildC} />
      <ChartBox box={D_BOX} build={buildD} />
    </div>
  );
}
